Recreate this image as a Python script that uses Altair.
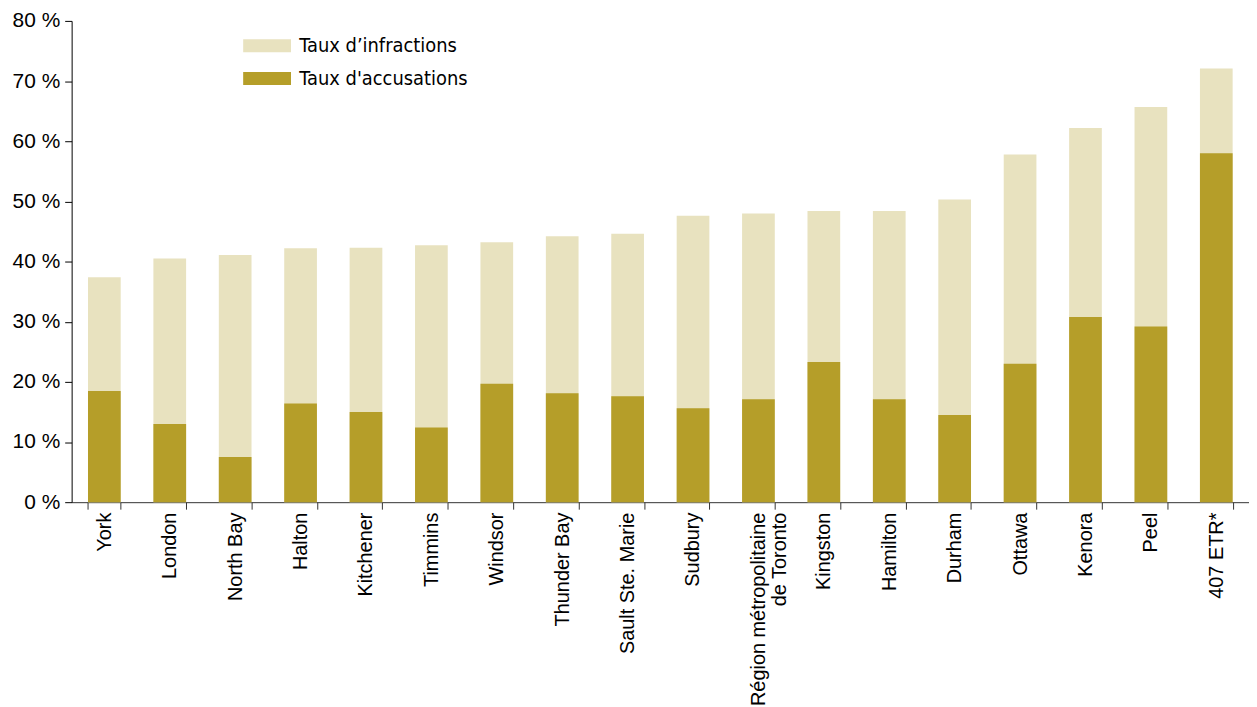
import altair as alt
import pandas as pd

categories = ["York", "London", "North Bay", "Halton", "Kitchener", "Timmins",
              "Windsor", "Thunder Bay", "Sault Ste. Marie", "Sudbury",
              "Région métropolitaine\nde Toronto", "Kingston", "Hamilton",
              "Durham", "Ottawa", "Kenora", "Peel", "407 ETR*"]
infractions = [37.4, 40.5, 41.1, 42.2, 42.3, 42.7, 43.2, 44.2, 44.6, 47.6,
               48.0, 48.4, 48.4, 50.3, 57.8, 62.2, 65.7, 72.1]
accusations = [18.5, 13.0, 7.5, 16.4, 15.0, 12.4, 19.7, 18.1, 17.6, 15.6,
               17.1, 23.3, 17.1, 14.5, 23.0, 30.8, 29.2, 58.0]
series = ["Taux d’infractions", "Taux d'accusations"]
colors = ["#e8e2bf", "#b59e29"]
y_ticks = [0, 10, 20, 30, 40, 50, 60, 70, 80]

rows = []
for c, i, a in zip(categories, infractions, accusations):
    rows.append({"cat": c, "serie": series[0], "val": i})
    rows.append({"cat": c, "serie": series[1], "val": a})
df = pd.DataFrame(rows)

FONT = "Liberation Sans"
NARROW = "Liberation Sans Narrow, DejaVu Sans Condensed, sans-serif"

chart = alt.Chart(df).mark_bar().encode(
    x=alt.X("cat:N", sort=categories, title=None,
            scale=alt.Scale(paddingInner=0.5, paddingOuter=0.25),
            axis=alt.Axis(labelAngle=270, labelAlign="right", labelBaseline="middle",
                          labelFont=FONT, labelFontSize=20, labelColor="black",
                          labelLineHeight=21, labelPadding=3, labelLimit=0,
                          labelExpr="split(datum.label, '\\n')",
                          tickBand="extent", tickSize=7, tickColor="#333",
                          domainColor="#333", labelOverlap=False)),
    y=alt.Y("val:Q", stack=None, title=None,
            scale=alt.Scale(domain=[0, 80], nice=False),
            axis=alt.Axis(values=y_ticks, labelExpr="datum.value + ' %'",
                          labelFont=FONT, labelFontSize=21, labelColor="black",
                          labelPadding=5, tickSize=7, tickColor="black",
                          domainColor="black", grid=False)),
    color=alt.Color("serie:N",
                    scale=alt.Scale(domain=series, range=colors),
                    legend=alt.Legend(title=None, orient="none", legendX=169, legendY=15,
                                      symbolType="M-1,-1H6.4V1H-1Z", symbolSize=169,
                                      symbolStrokeWidth=0, symbolOpacity=1,
                                      labelOffset=40, labelFont=NARROW, labelLimit=0,
                                      labelFontSize=20, labelColor="black",
                                      rowPadding=13, padding=0)),
).properties(
    width=1184, height=484, padding={"left": 4, "top": 0, "right": 0, "bottom": 0}
).configure_view(stroke=None)

chart.save("out.html", embed_options={"renderer": "svg", "actions": False})
